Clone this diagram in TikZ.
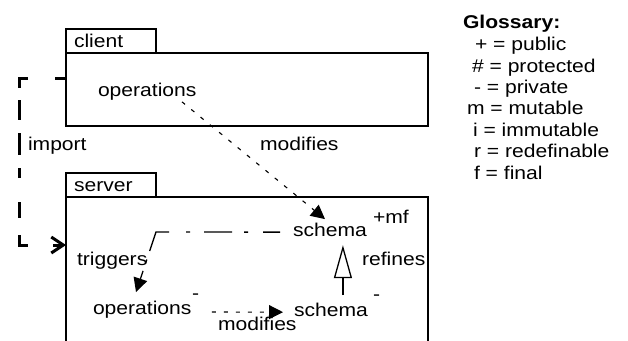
\documentclass[tikz,border=0pt]{standalone}
\usepackage{fontspec}
\setmainfont[FakeStretch=1.14]{Liberation Sans}
\usetikzlibrary{arrows.meta}
\begin{document}
\begin{tikzpicture}[x=1pt,y=-1pt,
  lbl/.style={anchor=base west, inner sep=0pt, outer sep=0pt, font=\fontsize{18.5pt}{21pt}\selectfont},
  pkgbox/.style={draw, line width=2.5pt, inner sep=0pt, outer sep=0pt, anchor=north west, minimum width=362pt},
  pkgtab/.style={draw, line width=2.5pt, inner sep=0pt, outer sep=0pt, anchor=south west, minimum width=90pt, minimum height=24pt},
  dep/.style={line width=1.1pt, dash pattern=on 4pt off 8pt, -{Triangle[length=14pt,width=14pt]}},
  trig/.style={line width=1.3pt, dash pattern=on 17pt off 15pt on 4pt off 12pt on 28pt off 14pt on 4pt off 17pt on 33pt off 9pt on 4pt off 8pt on 30pt off 2pt, -{Triangle[length=14pt,width=14pt]}},
  imp/.style={line width=3pt, dash pattern=on 11pt off 27pt on 19pt off 12pt on 20pt off 13pt on 22pt off 13pt on 10pt off 24pt on 16pt off 17pt on 19pt off 25pt, -{Straight Barb[length=12pt,width=16pt]}},
  refine/.style={line width=1.3pt, -{Triangle[open,fill=white,length=33pt,width=18pt]}},
]
\useasboundingbox (0,0) rectangle (628,340);

% packages
\node[pkgbox, minimum height=73pt] (clientbox) at (66,53) {};
\node[pkgtab] (clienttab) at (66,53) {};
\node[pkgbox, minimum height=170pt] (serverbox) at (66,197) {};
\node[pkgtab] (servertab) at (66,197) {};

% texts
\node[lbl] (client) at (74,47) {client};
\node[lbl] (ops1) at (98,96) {operations};
\node[lbl] (mod1) at (260,150) {modifies};
\node[lbl] (import) at (28,150) {import};
\node[lbl] (server) at (74,191) {server};
\node[lbl] (schema1) at (293,236) {schema};
\node[lbl] (pmf) at (373,223) {+mf};
\node[lbl] (triggers) at (77,265) {triggers};
\node[lbl] (ops2) at (93,314) {operations};
\node[lbl] (minus1) at (192,299) {-};
\node[lbl] (schema2) at (294,316) {schema};
\node[lbl] (minus2) at (373,300) {-};
\node[lbl] (mod2) at (218,330) {modifies};
\node[lbl] (refines) at (362,265) {refines};

% glossary
\node[lbl] (g0) at (463,28) {\bfseries Glossary:};
\node[lbl] (g1) at (475,50) {+ = public};
\node[lbl] (g2) at (472,72) {\# = protected};
\node[lbl] (g3) at (474,93) {- = private};
\node[lbl] (g4) at (467,114) {m = mutable};
\node[lbl] (g5) at (473,136) {i = immutable};
\node[lbl] (g6) at (474,157) {r = redefinable};
\node[lbl] (g7) at (474,179) {f = final};

% connectors
\draw[dep] ([shift={(-14.5,2)}]ops1.south east) -- ([shift={(32,-3.5)}]schema1.north west);
\draw[trig] ([shift={(-13,2.75)}]schema1.west) -- (156,232) -- ([shift={(43,-8.5)}]ops2.north west);
\draw[dep] ([shift={(20.5,2.8)}]ops2.east) -- ([shift={(-11,2.75)}]schema2.west);
\draw[refine] ([shift={(12,-7.5)}]schema2.north) -- ([shift={(13,9)}]schema1.south);
\draw[imp] ([shift={(0,25)}]clientbox.north west) -- ++(-47,0) |- ([shift={(0,48)}]serverbox.north west);
\end{tikzpicture}
\end{document}
